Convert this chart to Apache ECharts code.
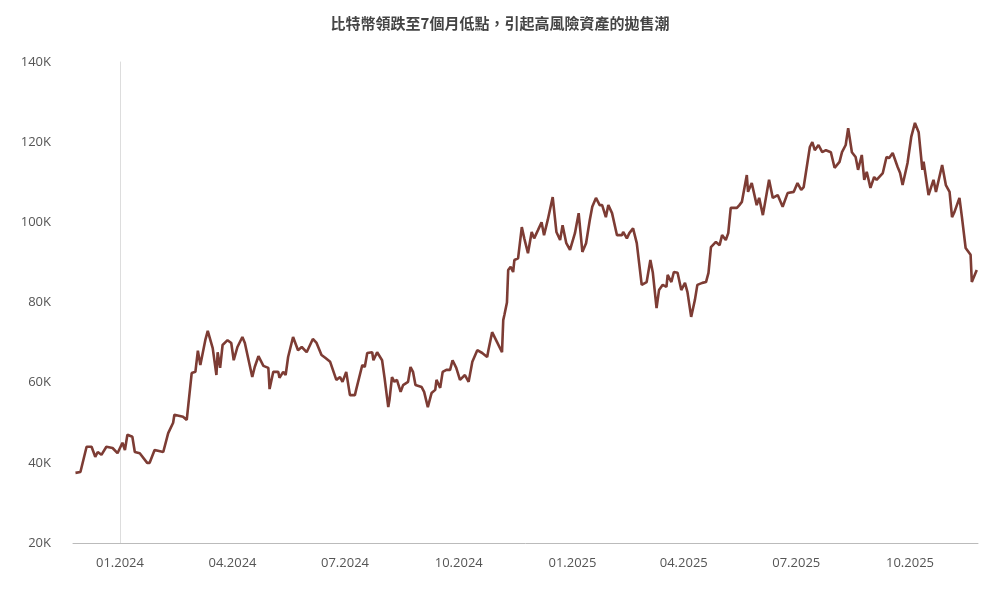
<!DOCTYPE html>
<html><head><meta charset="utf-8">
<script src="https://cdn.jsdelivr.net/npm/echarts@6/dist/echarts.min.js"></script>
<style>html,body{margin:0;padding:0;background:#fff}#c{width:1000px;height:601px}</style>
</head><body><div id="c"></div>
<script>
const title = '比特幣領跌至7個月低點，引起高風險資產的拋售潮';
// days since 2024-01-01
const days = [-36,-32,-27,-23,-20,-18,-15,-11,-6,-2,2,4,6,10,12,16,22,24,28,35,39,43,44,51,54,58,61,63,65,69,71,75,78,79,81,83,87,90,92,95,99,101,107,109,112,116,120,121,124,128,129,132,134,136,140,144,147,151,156,159,163,166,170,175,178,180,183,186,190,191,196,198,200,204,205,208,212,214,217,218,220,222,224,227,229,233,235,237,239,244,246,249,252,255,256,259,261,264,267,269,272,275,279,282,285,289,293,297,298,301,305,309,310,311,313,314,316,318,319,322,325,327,330,333,335,338,341,343,346,350,353,356,358,361,364,368,371,374,377,380,382,385,388,390,393,395,398,402,406,407,410,412,415,418,422,426,429,431,434,436,439,442,443,446,448,451,454,457,459,462,465,467,471,474,476,478,482,485,487,490,492,494,499,501,503,507,508,511,515,517,520,525,528,532,536,540,545,548,551,553,558,560,562,565,568,571,575,578,582,584,587,589,592,595,597,600,602,604,607,610,612,617,620,622,625,629,631,633,637,640,643,646,649,650,654,658,660,665,668,671,673,675,679,681,684,688,689,693];
// price in thousands USD
const prices = [37.5,37.7,44,44,41.5,42.7,42,44,43.7,42.4,45,43.2,47,46.5,42.7,42.4,40,40,43.2,42.7,47.4,50,52,51.5,50.7,62.4,62.7,68,64.4,70.6,72.9,68.6,61.9,67.6,63.7,69.4,70.6,69.9,65.6,68.9,71.4,69.9,61.4,63.9,66.6,64.2,63.7,58.4,62.7,62.7,61.2,62.7,61.9,66.4,71.4,68.1,68.9,67.6,70.9,69.9,66.9,66.2,65.2,60.7,61.4,60.2,62.7,56.9,56.9,58.2,64.4,63.9,67.4,67.6,65.6,67.6,65.6,61.2,53.9,55.7,61.4,60.2,60.7,57.7,59.4,60.2,63.9,62.7,59.4,58.9,57.7,53.9,57.4,58.2,60.7,58.7,62.7,63.2,63.2,65.6,63.7,60.7,61.9,60.2,65.2,68.1,67.4,66.4,68.1,72.6,70.1,67.6,75.6,77,80,88.1,88.9,87.6,90.6,91,98.8,96,92.3,97.6,96,98,100,96.8,100.6,106.3,97.6,95.6,99.3,94.8,93.1,97.3,102.3,92.6,94.8,100.6,103.9,106.1,104.3,104.3,101.3,104.3,102.3,96.8,96.8,97.6,96,97.3,98.5,94.8,84.4,85.1,90.6,87.4,78.6,83.1,84.4,83.9,86.9,85.1,87.6,87.4,83.1,84.9,82.6,76.4,80.6,84.4,84.9,85.1,87.4,93.8,95.1,94.3,96.8,95.6,97.3,103.6,103.6,104.3,105.1,111.8,107.6,109.8,104.3,106.1,101.8,110.6,106.1,106.8,103.9,107.3,107.6,109.8,108.1,108.8,118.8,120,118,119.3,117.5,118,117.5,113.6,115.1,117.5,119.3,123.5,117.5,116.3,113.1,116.8,110.6,112.6,108.6,111.3,110.6,112.3,116.3,116,117.3,113.8,112.3,109.3,114.8,121.3,124.8,122.5,113.1,115.1,106.8,110.6,107.6,114.3,109.3,107.6,101.3,102.6,106.1,101.3,93.6,91.9,85.1,88.1];
const tickDays = [0,91,182,274,366,456,547,639];
const tickLabels = ['01.2024','04.2024','07.2024','10.2024','01.2025','04.2025','07.2025','10.2025'];
const yTicks = [20,40,60,80,100,120,140];

const chart = echarts.init(document.getElementById('c'));
chart.setOption({
  animation:false,
  title:{text:title,left:'center',top:11,textStyle:{fontSize:15,fontWeight:'bold',color:'#444',fontFamily:'Noto Sans CJK TC'}},
  grid:{left:73,right:22,top:62,bottom:58},
  xAxis:{type:'value',min:-38,max:694,
    axisLine:{show:true,lineStyle:{color:'#bbb'}},
    axisTick:{show:false},splitLine:{show:false},
    axisLabel:{customValues:tickDays,formatter:v=>tickLabels[tickDays.indexOf(v)]||'',color:'#555',fontSize:13,margin:14,fontFamily:'Open Sans'}},
  yAxis:{type:'value',min:yTicks[0],max:yTicks[yTicks.length-1],interval:20,
    axisLine:{show:true,lineStyle:{color:'#ddd'}},axisTick:{show:false},splitLine:{show:false},
    axisLabel:{formatter:v=>v+'K',color:'#555',fontSize:13,margin:22,fontFamily:'Open Sans'}},
  series:[{type:'line',data:days.map((d,i)=>[d,prices[i]]),showSymbol:false,
    lineStyle:{color:'#7d3c34',width:2.6},itemStyle:{color:'#7d3c34'}}]
});
</script></body></html>
